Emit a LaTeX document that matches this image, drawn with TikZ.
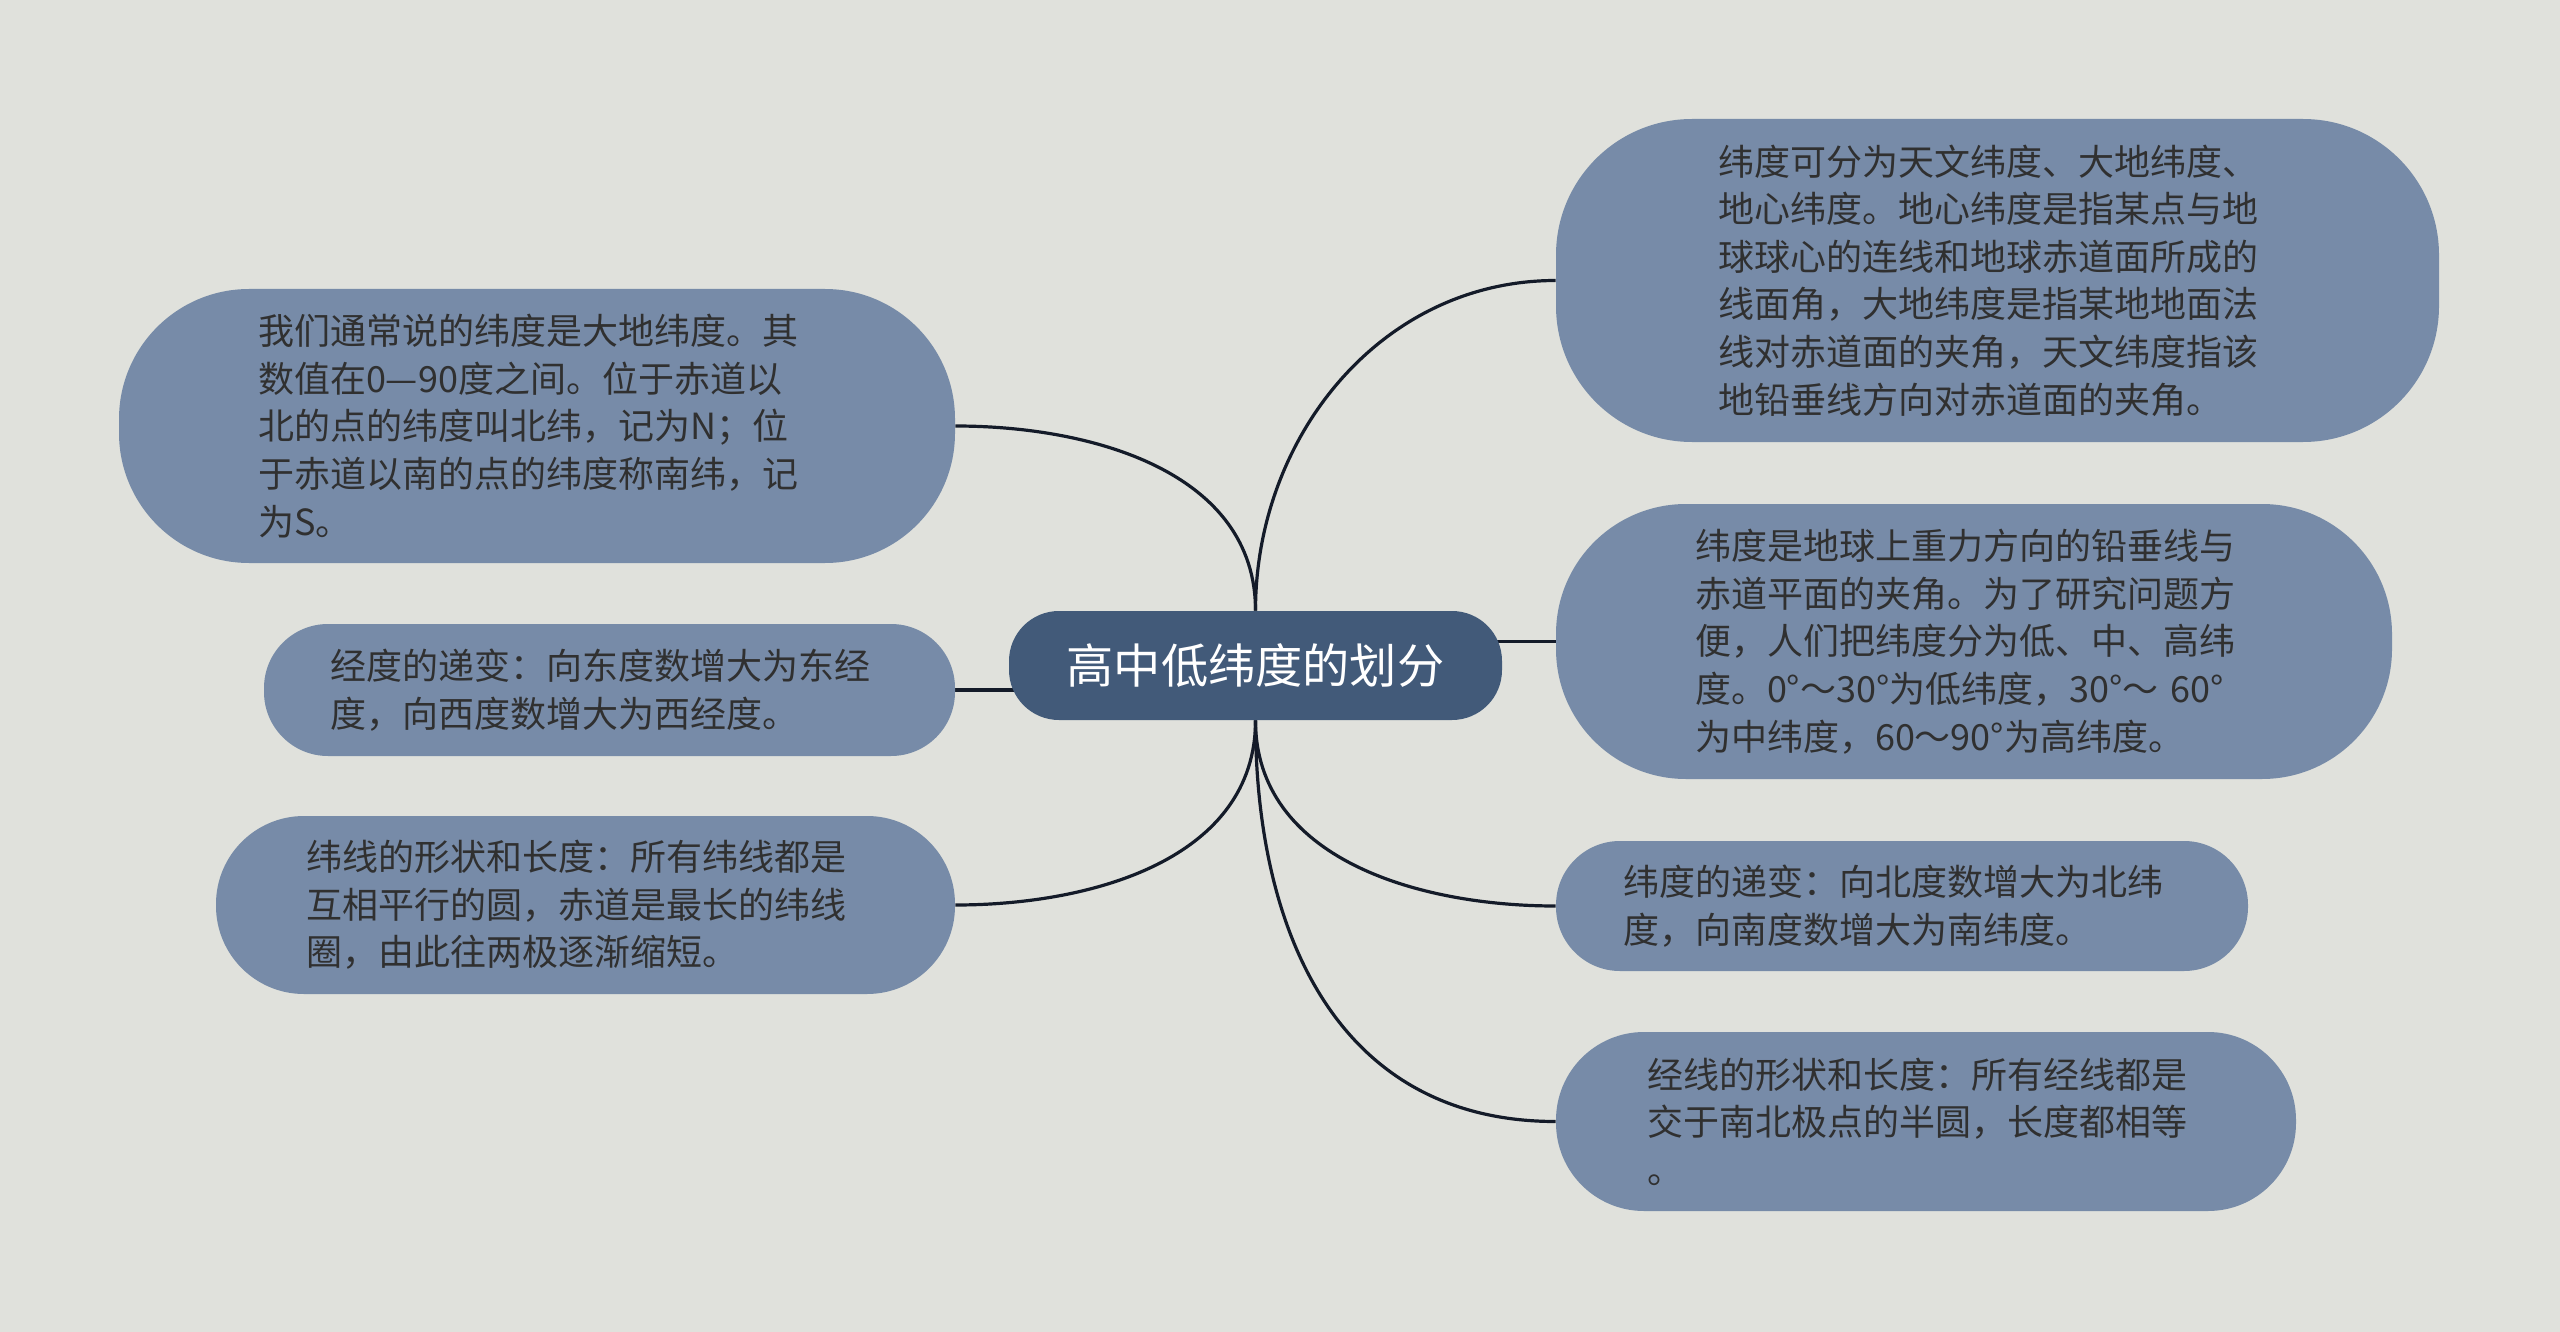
\documentclass[tikz,border=0pt]{standalone}
\usepackage{fontspec}
\newfontfamily\cjk{Noto Sans CJK SC}
\usetikzlibrary{backgrounds}
\definecolor{paper}{HTML}{E0E1DC}
\definecolor{topicfill}{HTML}{778BA8}
\definecolor{mainfill}{HTML}{425A79}
\definecolor{ink}{HTML}{303030}
\definecolor{edge}{HTML}{141B29}
\tikzstyle{topic}=[fill=topicfill, text=ink, align=left, text width=279pt, inner sep=0pt, font=\cjk\fontsize{18pt}{23.8pt}\selectfont]
\tikzstyle{main}=[fill=mainfill, text=white, inner sep=0pt, font=\cjk\fontsize{23.6pt}{28pt}\selectfont]
\tikzstyle{branch}=[draw=edge, line width=1.6pt]

\begin{document}
\begin{tikzpicture}[x=0.5pt, y=-0.5pt]
% Centre
    \node[main, minimum width=246.5pt, minimum height=54.5pt, rounded corners=25pt] (root) at (1255.5,665.5) {高中低纬度的划分};
% Right topics
    \node[topic, minimum width=441.5pt, minimum height=161.5pt, rounded corners=68pt] (latkinds) at (1997.5,280.5)
        {纬度可分为天文纬度、大地纬度、\\地心纬度。地心纬度是指某点与地\\球球心的连线和地球赤道面所成的\\线面角，大地纬度是指某地地面法\\线对赤道面的夹角，天文纬度指该\\地铅垂线方向对赤道面的夹角。};
    \node[topic, minimum width=418pt, minimum height=137.5pt, rounded corners=65pt] (latdef) at (1974,641.5)
        {纬度是地球上重力方向的铅垂线与\\赤道平面的夹角。为了研究问题方\\便，人们把纬度分为低、中、高纬\\度。0°～30°为低纬度，30°～ 60°\\为中纬度，60～90°为高纬度。};
    \node[topic, minimum width=346pt, minimum height=65pt, rounded corners=32pt] (latstep) at (1902,906)
        {纬度的递变：向北度数增大为北纬\\度，向南度数增大为南纬度。};
    \node[topic, minimum width=370pt, minimum height=89.5pt, rounded corners=44pt] (lonline) at (1926,1121.5)
        {经线的形状和长度：所有经线都是\\交于南北极点的半圆，长度都相等\\。};
% Left topics
    \node[topic, minimum width=418pt, minimum height=137pt, rounded corners=65pt] (latusual) at (537,426)
        {我们通常说的纬度是大地纬度。其\\数值在0—90度之间。位于赤道以\\北的点的纬度叫北纬，记为N；位\\于赤道以南的点的纬度称南纬，记\\为S。};
    \node[topic, minimum width=345.5pt, minimum height=66pt, rounded corners=32pt] (lonstep) at (609.5,690)
        {经度的递变：向东度数增大为东经\\度，向西度数增大为西经度。};
    \node[topic, minimum width=369.5pt, minimum height=89pt, rounded corners=44pt] (latline) at (585.5,905)
        {纬线的形状和长度：所有纬线都是\\互相平行的圆，赤道是最长的纬线\\圈，由此往两极逐渐缩短。};
% Branches
    \begin{scope}[on background layer]
    \fill[paper] (0,0) rectangle (2560,1332);
    \draw[branch] (root.north) to[out=90, in=180] (latkinds.west);
    \draw[branch] (root.north) to[out=90, in=0] (latusual.east);
    \draw[branch] (root.center |- latdef.west) -- (latdef.west);
    \draw[branch] (lonstep.east) -- (root.center |- lonstep.east);
    \draw[branch] (root.south) to[out=-90, in=0] (latline.east);
    \draw[branch] (root.south) to[out=-90, in=180] (latstep.west);
    \draw[branch] (root.south) to[out=-90, in=180, looseness=1.1] (lonline.west);
    \end{scope}
\end{tikzpicture}
\end{document}
